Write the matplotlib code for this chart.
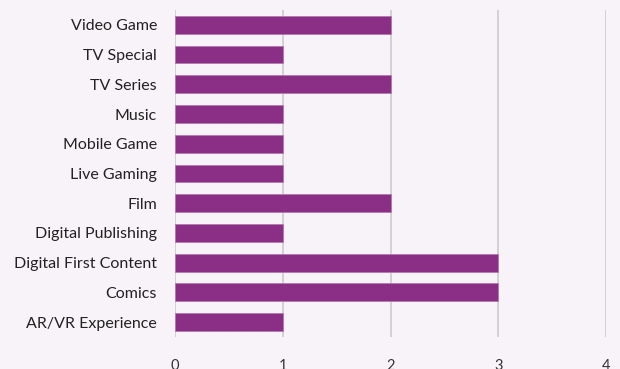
import matplotlib.pyplot as plt

categories = ['Video Game', 'TV Special', 'TV Series', 'Music', 'Mobile Game',
              'Live Gaming', 'Film', 'Digital Publishing', 'Digital First Content',
              'Comics', 'AR/VR Experience']
counts = [2, 1, 2, 1, 1, 1, 2, 1, 3, 3, 1]
xticks = [0, 1, 2, 3, 4]

bg = '#f8f3f8'
purple = '#8b2f86'

plt.rcParams['font.family'] = ['Lato', 'DejaVu Sans']

fig = plt.figure(figsize=(6.2, 3.69), dpi=100, facecolor=bg)
ax = fig.add_axes([0.2823, 0.0867, 0.6952, 0.8863], facecolor=bg)

ypos = list(range(len(categories)))[::-1]
ax.barh(ypos, counts, height=0.6, color=purple, edgecolor='#b07aad', linewidth=0.6, zorder=3)

ax.set_xlim(0, 4)
ax.set_ylim(-0.5, 10.5)
ax.set_xticks(xticks)
ax.set_xticklabels([str(t) for t in xticks])
ax.set_yticks(ypos)
ax.set_yticklabels(categories)
for x in xticks:
    ax.axvline(x, color='#cccccc', linewidth=1.2, zorder=1)

for s in ax.spines.values():
    s.set_visible(False)
ax.tick_params(axis='y', length=0, pad=13, labelsize=11.5, labelcolor='#222222')
ax.tick_params(axis='x', length=0, pad=16, labelsize=10.5, labelcolor='#333333')

fig.savefig('out.png', dpi=100, facecolor=bg)
